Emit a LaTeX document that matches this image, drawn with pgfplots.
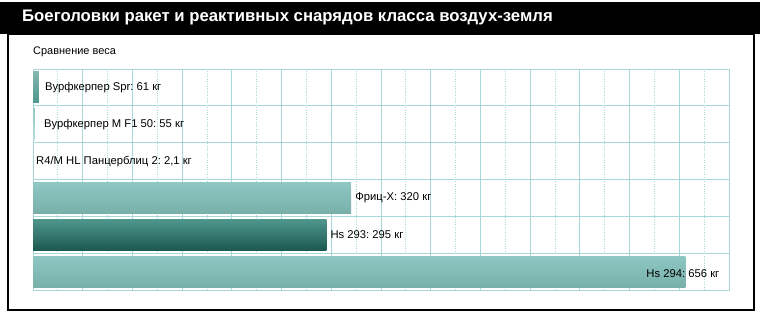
\documentclass[border=0pt]{standalone}
\usepackage{pgfplots}
\pgfplotsset{compat=1.18}
\usepackage{fontspec}
\setmainfont{Liberation Sans}
\frenchspacing
\definecolor{gridc}{HTML}{A8D8D8}
\definecolor{lightA}{HTML}{8EC7C3}
\definecolor{lightM}{HTML}{F0F9F8}
\definecolor{lightB}{HTML}{78AFA9}
\definecolor{darkA}{HTML}{4E978D}
\definecolor{darkM}{HTML}{2B7469}
\definecolor{darkB}{HTML}{1C5850}
\begin{document}
\begin{tikzpicture}[x=1bp,y=1bp]
\path[use as bounding box] (0,0) rectangle (760,313);
\fill[white] (0,0) rectangle (760,313);
\fill[black] (0,279) rectangle (760,311);
\draw[black, line width=2bp] (8,3) rectangle (754,279);
\node[anchor=west, text=white, inner sep=0pt, font=\bfseries\fontsize{16.8}{19}\selectfont] at (22,295.5) {Боеголовки ракет и реактивных снарядов класса воздух-земля};
\node[anchor=west, inner sep=0pt, font=\fontsize{11}{13}\selectfont] at (33,261) {Сравнение веса};
\begin{axis}[
  at={(33bp,23bp)}, anchor=south west,
  scale only axis, width=696bp, height=221bp,
  xmin=0, xmax=700, ymin=-0.5, ymax=5.5, y dir=reverse,
  xbar, bar shift=0pt, bar width=31bp,
  xtick={0,50,...,700}, minor x tick num=1,
  ytick={-0.5,0.5,...,5.5},
  xticklabels={}, yticklabels={},
  major tick length=0pt, minor tick length=0pt,
  xmajorgrids, xminorgrids, ymajorgrids,
  major grid style={draw=gridc, line width=0.9pt},
  minor grid style={draw=gridc, dotted, line width=0.8pt},
  axis line style={draw=gridc, line width=0.9pt},
  nodes near coords, point meta=explicit symbolic,
  every node near coord/.append style={anchor=west, inner sep=0pt, text=black, font=\fontsize{11.3}{13}\selectfont},
  clip=false, axis on top=false,
]
\addplot[draw=none, top color=darkA!70!white, middle color=darkM, bottom color=darkA,
  every node near coord/.append style={xshift=6bp}] coordinates {(6,0) [Вурфкерпер Spr: 61 кг]};
\addplot[draw=none, top color=lightA, bottom color=lightA!60!white,
  every node near coord/.append style={xshift=9bp}] coordinates {(2,1) [Вурфкерпер M F1 50: 55 кг]};
\addplot[draw=none, fill=lightA!80!white,
  every node near coord/.append style={xshift=2bp}] coordinates {(1,2) [R4/M HL Панцерблиц 2: 2,1 кг]};
\addplot[draw=none, top color=lightA, middle color=lightM, bottom color=lightB,
  every node near coord/.append style={xshift=4bp}] coordinates {(320,3) [Фриц-X: 320 кг]};
\addplot[draw=none, top color=darkA, middle color=darkM, bottom color=darkB,
  every node near coord/.append style={xshift=4bp}] coordinates {(295,4) [Hs 293: 295 кг]};
\addplot[draw=none, top color=lightA, middle color=lightM, bottom color=lightB,
  every node near coord/.append style={xshift=-39bp, yshift=-2bp}] coordinates {(656,5) [Hs 294: 656 кг]};
\end{axis}
\end{tikzpicture}
\end{document}
